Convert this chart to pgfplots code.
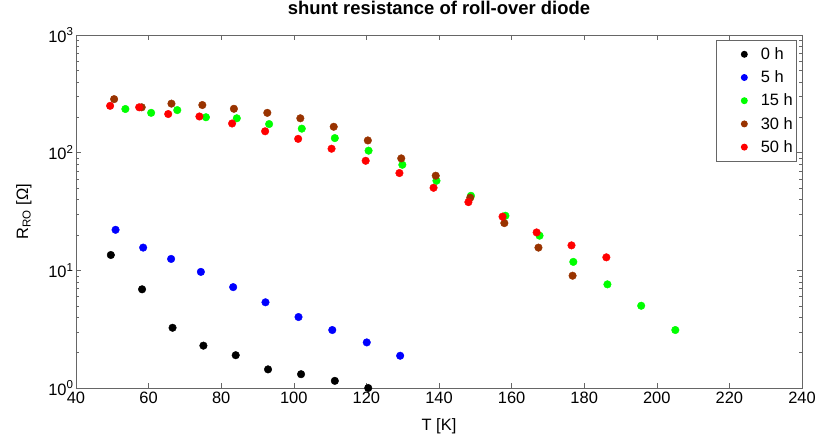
\documentclass[border=0pt]{standalone}
\usepackage{pgfplots}
\pgfplotsset{compat=1.18}
\usepackage{fontspec}
\setmainfont{Liberation Sans}
\definecolor{brownish}{rgb}{0.6,0.2,0}
\definecolor{axgray}{gray}{0.4}
\begin{document}
\begin{tikzpicture}
\begin{axis}[
  scale only axis,
  width=726bp, height=353bp,
  ymode=log,
  xmin=40, xmax=240, ymin=1, ymax=1000,
  xtick={40,60,...,240},
  ytick={1,10,100,1000},
  yticklabels={10\textsuperscript{0},10\textsuperscript{1},10\textsuperscript{2},10\textsuperscript{3}},
  /pgf/number format/assume math mode=true,
  tick align=inside,
  major tick length=5bp,
  minor tick length=3bp,
  axis line style={axgray},
  every tick/.style={axgray},
  ticklabel style={font=\fontsize{16.5}{18}\selectfont},
  xticklabel style={yshift=-1bp},
  yticklabel style={xshift=1bp},
  label style={font=\fontsize{16.5}{18}\selectfont},
  title style={font=\bfseries\fontsize{18.5}{20}\selectfont, at={(0.5,1)}, anchor=base, yshift=15bp},
  title={shunt resistance of roll-over diode},
  xlabel={T [K]},
  ylabel={R\textsubscript{RO} [Ω]},
  xlabel style={at={(rel axis cs:0.5,0)}, anchor=base, yshift=-42bp},
  ylabel style={yshift=10bp},
  legend style={at={(rel axis cs:1,1)}, anchor=north east, xshift=-6bp, yshift=-5bp,
    draw=axgray, font=\fontsize{16.5}{18}\selectfont, row sep=0bp,
    inner xsep=1bp, inner ysep=2.5bp, nodes={inner ysep=4.9bp}},
  legend cell align=left,
  legend image code/.code={\path[draw=none] (0bp,0bp) -- (41.5bp,0bp); \fill[#1, draw=none] (27bp,0bp) circle (3.5bp);},
  every axis plot/.append style={only marks, mark=*, mark size=3.8bp},
]
\addplot[black, mark options={fill=black}] coordinates {
(49.6,13.5) (58.2,6.9) (66.6,3.25) (75.1,2.29) (84.0,1.90) (92.9,1.44) (102.0,1.31) (111.3,1.15) (120.5,1.0)};
\addlegendentry{0 h}
\addplot[blue, mark options={fill=blue}] coordinates {
(50.9,22.1) (58.5,15.6) (66.2,12.5) (74.4,9.7) (83.3,7.2) (92.2,5.35) (101.3,4.01) (110.6,3.11) (120.1,2.44) (129.3,1.88)};
\addlegendentry{5 h}
\addplot[green, mark options={fill=green}] coordinates {
(53.6,235) (60.7,218) (67.9,230) (75.8,200) (84.3,196) (93.2,175) (102.2,160) (111.3,133) (120.6,104) (129.9,78.9) (139.3,57.7) (148.8,43.0) (158.3,29.1) (167.7,19.7) (177.0,11.8) (186.4,7.6) (195.7,5.0) (205.1,3.11)};
\addlegendentry{15 h}
\addplot[brownish, mark options={fill=brownish}] coordinates {
(50.5,285) (58.1,243) (66.3,261) (74.8,254) (83.5,236) (92.7,218) (101.8,196) (111.0,166) (120.4,127) (129.6,89.4) (139.1,63.7) (148.6,41.4) (158.0,25.2) (167.4,15.6) (176.8,9.0)};
\addlegendentry{30 h}
\addplot[red, mark options={fill=red}] coordinates {
(49.4,250) (57.4,243) (65.4,213) (74.0,203) (83.0,177) (92.1,152) (101.2,131) (110.4,108) (119.8,85.3) (129.1,67.1) (138.5,50.3) (148.1,38.0) (157.5,28.6) (166.9,21.0) (176.5,16.3) (186.1,12.9)};
\addlegendentry{50 h}
\end{axis}
\pgfresetboundingbox
\path[use as bounding box] ([shift={(-76bp,-49bp)}]current axis.south west) rectangle ([shift={(18bp,35bp)}]current axis.north east);
\end{tikzpicture}
\end{document}
